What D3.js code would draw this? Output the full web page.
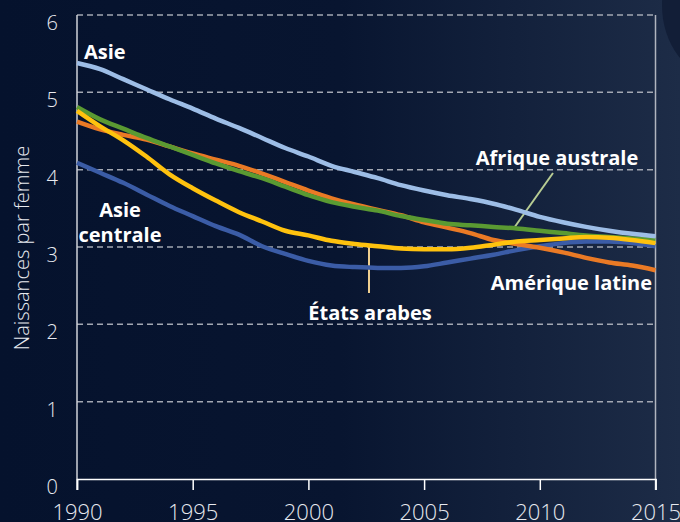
<!DOCTYPE html>
<html>
<head>
<meta charset="utf-8">
<script src="https://cdn.jsdelivr.net/npm/d3@7"></script>
<style>
  html, body { margin: 0; padding: 0; background: #061230; }
  svg { display: block; }
</style>
</head>
<body>
<script>
// years 1990-2015
const years = d3.range(1990, 2016);

// naissances par femme
const asie = [5.38, 5.30, 5.17, 5.04, 4.91, 4.79, 4.66, 4.54, 4.41, 4.28, 4.17, 4.05, 3.97, 3.89, 3.80, 3.73,
  3.67, 3.62, 3.56, 3.48, 3.39, 3.32, 3.26, 3.21, 3.17, 3.14];
const afriqueAustrale = [4.81, 4.65, 4.53, 4.41, 4.30, 4.19, 4.08, 3.98, 3.89, 3.78, 3.67, 3.58, 3.52, 3.47, 3.40, 3.35,
  3.30, 3.28, 3.26, 3.24, 3.21, 3.18, 3.15, 3.13, 3.11, 3.09];
const ameriqueLatine = [4.62, 4.52, 4.45, 4.39, 4.30, 4.21, 4.13, 4.05, 3.95, 3.84, 3.73, 3.63, 3.55, 3.48, 3.41, 3.32,
  3.25, 3.18, 3.09, 3.04, 2.99, 2.93, 2.86, 2.80, 2.76, 2.70];
const etatsArabes = [4.76, 4.56, 4.38, 4.17, 3.94, 3.76, 3.60, 3.45, 3.33, 3.21, 3.15, 3.08, 3.04, 3.01, 2.98, 2.97,
  2.97, 2.99, 3.03, 3.07, 3.09, 3.11, 3.13, 3.12, 3.09, 3.05];
const asieCentrale = [4.09, 3.96, 3.83, 3.68, 3.53, 3.40, 3.27, 3.16, 3.01, 2.91, 2.82, 2.76, 2.74, 2.73, 2.73, 2.75,
  2.80, 2.85, 2.90, 2.96, 3.01, 3.05, 3.07, 3.07, 3.05, 3.01];

const yTicks = [0, 1, 2, 3, 4, 5, 6];
const xTicks = [1990, 1995, 2000, 2005, 2010, 2015];

// draw order: last on top
const series = [
  { name: "Asie centrale", values: asieCentrale, color: "#3b5ca6" },
  { name: "Amérique latine", values: ameriqueLatine, color: "#ea7a25" },
  { name: "Afrique australe", values: afriqueAustrale, color: "#5a9a32" },
  { name: "États arabes", values: etatsArabes, color: "#ffc20e" },
  { name: "Asie", values: asie, color: "#9dbde6" }
];

const width = 680;
const height = 522;
const margin = { top: 15, right: 24, bottom: 43, left: 77 };

const svg = d3.select("body").append("svg")
  .attr("width", width)
  .attr("height", height);

// background gradient
const defs = svg.append("defs");
const grad = defs.append("linearGradient").attr("id", "bg").attr("x1", 0).attr("x2", 1).attr("y1", 0).attr("y2", 0);
grad.append("stop").attr("offset", "0%").attr("stop-color", "#05122d");
grad.append("stop").attr("offset", "50%").attr("stop-color", "#081530");
grad.append("stop").attr("offset", "100%").attr("stop-color", "#1d2c47");
svg.append("rect").attr("width", width).attr("height", height).attr("fill", "url(#bg)");

// dark silhouette at top right
svg.append("ellipse")
  .attr("cx", 718).attr("cy", 5).attr("rx", 56).attr("ry", 72)
  .attr("fill", "#121e37");

const x = d3.scaleLinear().domain([1990, 2015]).range([margin.left, width - margin.right - 0.5]);
const y = d3.scaleLinear().domain([0, 6]).range([height - margin.bottom, margin.top]);

// dashed gridlines
svg.append("g")
  .selectAll("line")
  .data(yTicks.filter(d => d > 0))
  .join("line")
  .attr("x1", x(1990))
  .attr("x2", x(2015))
  .attr("y1", d => y(d))
  .attr("y2", d => y(d))
  .attr("stroke", "#a3a8b3")
  .attr("stroke-width", 1.5)
  .attr("stroke-dasharray", "6,4");

// y axis
const yAxis = svg.append("g")
  .attr("transform", "translate(" + x(1990) + ",0)")
  .call(d3.axisLeft(y).tickValues(yTicks).tickSize(0).tickPadding(19).tickFormat(d3.format("d")));
yAxis.select(".domain").remove();
yAxis.selectAll("text")
  .attr("dy", "0.32em")
  .style("font-family", "Open Sans")
  .style("font-weight", 300)
  .style("font-size", "20px")
  .attr("fill", "#e8eaf0")
  .attr("transform", "translate(0,8)");

// vertical frame lines
svg.append("line")
  .attr("x1", x(1990)).attr("x2", x(1990))
  .attr("y1", y(6)).attr("y2", y(0) + 11)
  .attr("stroke", "#d0d3da").attr("stroke-width", 1.5);
svg.append("line")
  .attr("x1", x(2015)).attr("x2", x(2015))
  .attr("y1", y(6)).attr("y2", y(0) + 11)
  .attr("stroke", "#b0b5bf").attr("stroke-width", 1.5);

// x axis
const xAxis = svg.append("g")
  .attr("transform", "translate(0," + y(0) + ")")
  .call(d3.axisBottom(x).tickValues(xTicks).tickSize(11).tickPadding(14).tickFormat(d3.format("d")));
xAxis.select(".domain").attr("stroke", "#ffffff").attr("stroke-width", 1.5);
xAxis.selectAll("line").attr("stroke", "#ffffff").attr("stroke-width", 1.5);
xAxis.selectAll("text")
  .style("font-family", "Open Sans")
  .style("font-weight", 300)
  .style("font-size", "22px")
  .attr("fill", "#e8eaf0");

// y axis title
svg.append("text")
  .attr("transform", "translate(29," + 248 + ") rotate(-90)")
  .attr("text-anchor", "middle")
  .style("font-family", "Open Sans")
  .style("font-weight", 300)
  .style("font-size", "20px")
  .attr("fill", "#e8eaf0")
  .text("Naissances par femme");

// leader lines
const leaders = [
  { x1: 553, y1: 173, x2: 514, y2: 228, color: "#b7cc93" },
  { x1: 369, y1: 247, x2: 369, y2: 293, color: "#efcf8f" }
];
svg.append("g")
  .selectAll("line")
  .data(leaders)
  .join("line")
  .attr("x1", d => d.x1).attr("y1", d => d.y1)
  .attr("x2", d => d.x2).attr("y2", d => d.y2)
  .attr("stroke", d => d.color)
  .attr("stroke-width", 2);

// lines
const line = d3.line()
  .x((d, i) => x(years[i]))
  .y(d => y(d))
  .curve(d3.curveMonotoneX);

svg.append("g")
  .selectAll("path")
  .data(series)
  .join("path")
  .attr("d", d => line(d.values))
  .attr("fill", "none")
  .attr("stroke", d => d.color)
  .attr("stroke-width", 4.5)
  .attr("stroke-linejoin", "round");

// series labels
const labels = [
  { lines: ["Asie"], x: 84, y: 59, anchor: "start" },
  { lines: ["Asie", "centrale"], x: 120, y: 217, anchor: "middle" },
  { lines: ["Afrique australe"], x: 557, y: 165, anchor: "middle" },
  { lines: ["Amérique latine"], x: 652, y: 290, anchor: "end" },
  { lines: ["États arabes"], x: 370, y: 320, anchor: "middle" }
];

const lab = svg.append("g")
  .selectAll("text")
  .data(labels)
  .join("text")
  .attr("x", d => d.x)
  .attr("y", d => d.y)
  .attr("text-anchor", d => d.anchor)
  .style("font-family", "Open Sans")
  .style("font-weight", 700)
  .style("font-size", "20px")
  .attr("fill", "#ffffff");

lab.selectAll("tspan")
  .data(d => d.lines.map((t, i) => ({ t, i, x: d.x })))
  .join("tspan")
  .attr("x", d => d.x)
  .attr("dy", d => d.i === 0 ? 0 : 25)
  .text(d => d.t);
</script>
</body>
</html>
